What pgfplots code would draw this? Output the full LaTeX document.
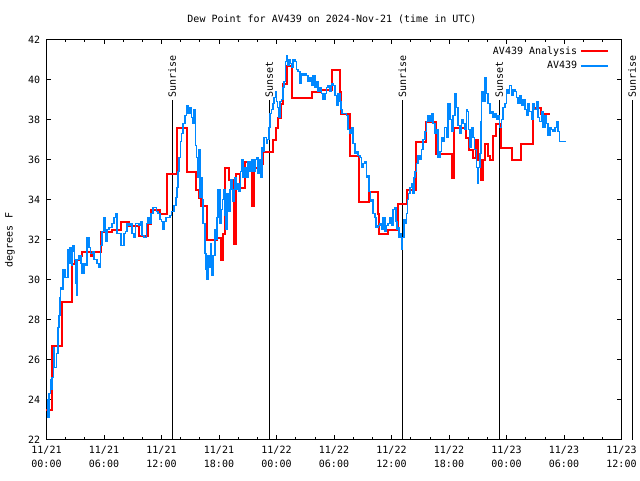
\documentclass[border=0pt]{standalone}
\usepackage{pgfplots}
\pgfplotsset{compat=1.18}
\usepackage{fontspec}
\setmainfont{DejaVu Sans Mono}
\definecolor{obsblue}{RGB}{0,136,255}
\definecolor{anared}{RGB}{255,0,0}
\begin{document}
\begin{tikzpicture}[font=\fontsize{7.5}{10.5}\selectfont]
\path[use as bounding box] (-34.875pt,-30.375pt) rectangle (445.125pt,329.625pt);
\begin{axis}[
  scale only axis, width=431.25pt, height=300pt,
  xmin=0, xmax=60, ymin=22, ymax=42,
  clip=false,
  axis line style={line width=0.6pt},
  major tick length=3.5pt, minor tick length=2pt,
  tick style={line width=0.5pt, black},
  xtick={0,6,...,60}, minor x tick num=2,
  ytick={22,24,...,42},
  xtick pos=both, ytick pos=both,
  xticklabel pos=lower, yticklabel pos=left,
  xticklabels={{11/21\\00:00},{11/21\\06:00},{11/21\\12:00},{11/21\\18:00},{11/22\\00:00},{11/22\\06:00},{11/22\\12:00},{11/22\\18:00},{11/23\\00:00},{11/23\\06:00},{11/23\\12:00}},
  xticklabel style={align=center, inner sep=0pt, yshift=-5pt, font=\fontsize{7.5}{10.5}\selectfont},
  yticklabel style={inner sep=0pt, xshift=-4.5pt, font=\fontsize{7.5}{10.5}\selectfont},
  /pgf/number format/assume math mode=true,
  legend plot pos=right,
  legend cell align=right,
  legend style={draw=none, fill=none, at={(0.978,0.99)}, anchor=north east, font=\fontsize{7.5}{9.5}\selectfont, inner sep=0pt, row sep=0pt},
  legend image code/.code={\draw[#1] (0pt,0pt) -- (20pt,0pt);},
]
\draw[black, line width=0.75pt] (axis cs:13.12,22) -- (axis cs:13.12,39.0);
\draw[black, line width=0.75pt] (axis cs:23.25,22) -- (axis cs:23.25,39.0);
\draw[black, line width=0.75pt] (axis cs:37.14,22) -- (axis cs:37.14,39.0);
\draw[black, line width=0.75pt] (axis cs:47.24,22) -- (axis cs:47.24,39.0);
\draw[black, line width=0.75pt] (axis cs:61.1,22) -- (axis cs:61.1,39.0);
\node[rotate=90, anchor=west, inner sep=1pt] at (axis cs:13.12,39.0) {Sunrise};
\node[rotate=90, anchor=west, inner sep=1pt] at (axis cs:23.25,39.0) {Sunset};
\node[rotate=90, anchor=west, inner sep=1pt] at (axis cs:37.14,39.0) {Sunrise};
\node[rotate=90, anchor=west, inner sep=1pt] at (axis cs:47.24,39.0) {Sunset};
\node[rotate=90, anchor=west, inner sep=1pt] at (axis cs:61.1,39.0) {Sunrise};
\addplot[const plot, draw=anared, line width=1.5pt, mark=none] coordinates {
(0,23.5) (0.60,26.7) (1.65,28.9) (2.63,30.8) (2.97,31.0) (3.49,31.2) (3.73,31.4) (4.61,31.2) (4.85,31.4)
(5.65,32.4) (6.86,32.5) (7.74,32.9) (8.60,32.7) (9.65,32.2) (10.62,32.8) (10.87,33.5) (11.84,33.3)
(12.60,35.3) (13.58,37.6) (14.62,35.4) (15.59,34.5) (15.93,34.1) (16.08,33.7) (16.77,32.0) (17.75,32.1)
(18.17,31.0) (18.37,32.3) (18.61,35.6) (19.06,35.0) (19.55,31.8) (19.73,35.3) (20.18,34.6) (20.70,35.9)
(21.40,33.7) (21.61,35.9) (21.74,35.6) (22.37,35.8) (22.61,36.4) (23.65,37.0) (23.90,37.6) (24.17,38.1)
(24.45,38.8) (24.69,39.8) (25.11,40.7) (25.57,39.1) (27.66,39.4) (28.52,39.5) (29.74,40.5) (30.61,39.4)
(30.71,38.3) (31.65,36.2) (32.62,33.9) (33.66,34.4) (34.60,33.3) (34.70,32.3) (35.64,32.5) (36.69,33.8)
(37.62,34.5) (38.53,36.9) (39.65,37.9) (40.69,36.3) (42.29,35.1) (42.49,37.6) (43.75,37.1) (44.11,36.5)
(44.51,36.1) (44.79,37.0) (45.00,36.0) (45.31,35.0) (45.52,36.0) (45.73,36.8) (46.04,36.2) (46.25,36.0)
(46.56,37.2) (46.95,37.8) (47.47,36.6) (48.62,36.0) (49.55,36.8) (50.76,38.6) (51.64,38.3) (52.51,38.3)
};
\addlegendentry{AV439 Analysis}
\addplot[const plot, draw=obsblue, line width=1.2pt, mark=none] coordinates {
(0.02,24.0) (0.10,23.1) (0.26,24.3) (0.40,25.0) (0.47,24.5) (0.60,25.1) (0.71,26.6) (0.83,25.6) (1.06,26.3)
(1.20,27.6) (1.30,28.2) (1.41,29.1) (1.48,29.6) (1.62,29.5) (1.75,30.5) (1.90,30.1) (2.09,30.1) (2.24,31.5)
(2.35,30.8) (2.45,31.6) (2.59,30.7) (2.69,31.4) (2.79,31.7) (2.94,31.0) (3.04,29.8) (3.15,29.2) (3.21,31.0)
(3.39,31.2) (3.57,30.8) (3.73,30.3) (3.91,30.8) (4.09,30.7) (4.25,32.1) (4.43,31.6) (4.61,31.3) (4.88,31.4)
(4.95,31.0) (5.30,30.8) (5.48,30.6) (5.65,31.7) (5.82,32.4) (6.00,33.1) (6.17,31.9) (6.34,32.5) (6.52,32.6)
(6.69,32.6) (6.86,32.8) (7.04,33.1) (7.22,33.3) (7.38,32.3) (7.66,32.3) (7.80,31.7) (8.01,31.7) (8.08,32.3)
(8.26,32.4) (8.43,32.8) (8.60,32.7) (8.78,32.8) (8.95,32.3) (9.12,32.1) (9.30,32.8) (9.65,32.7) (9.82,32.9)
(9.99,32.2) (10.17,32.1) (10.45,32.8) (10.58,33.1) (10.79,32.8) (10.93,33.3) (11.14,33.6) (11.49,33.4)
(11.66,33.3) (11.84,33.0) (12.01,32.9) (12.12,32.5) (12.25,32.9) (12.46,33.1) (12.70,33.1) (12.88,33.2)
(13.06,33.4) (13.30,33.7) (13.50,34.1) (13.64,34.6) (13.74,35.4) (13.85,36.1) (13.99,36.9) (14.10,37.3)
(14.27,37.8) (14.44,38.2) (14.62,38.7) (14.79,38.3) (14.96,38.6) (15.14,38.1) (15.31,37.8) (15.41,38.5)
(15.56,36.7) (15.66,36.1) (15.83,35.1) (15.93,36.5) (16.01,34.1) (16.18,35.1) (16.29,34.0) (16.35,32.8)
(16.53,31.3) (16.63,30.5) (16.77,30.0) (16.87,31.2) (16.98,30.6) (17.12,31.8) (17.23,30.2) (17.39,31.2)
(17.57,32.5) (17.67,32.0) (17.81,33.1) (17.92,34.5) (18.09,32.8) (18.27,33.5) (18.37,34.0) (18.51,34.5)
(18.61,33.2) (18.72,32.5) (18.85,34.3) (19.00,33.4) (19.14,34.5) (19.27,35.0) (19.42,33.9) (19.55,34.5)
(19.69,35.1) (19.83,34.5) (20.00,34.8) (20.11,34.4) (20.25,35.4) (20.39,36.0) (20.52,35.1) (20.70,35.6)
(20.88,35.1) (21.04,35.9) (21.22,35.4) (21.40,36.0) (21.57,35.4) (21.74,36.0) (21.92,36.1) (22.06,35.3)
(22.16,36.0) (22.34,35.1) (22.50,36.6) (22.61,36.4) (22.71,37.1) (22.96,36.8) (23.07,37.0) (23.20,37.6)
(23.31,38.3) (23.48,38.5) (23.65,38.8) (23.75,39.1) (23.90,39.4) (24.01,38.9) (24.11,38.6) (24.25,38.1)
(24.35,38.9) (24.53,39.0) (24.69,39.6) (24.80,39.9) (24.94,40.9) (25.05,41.2) (25.15,40.7) (25.29,41.0)
(25.39,40.8) (25.57,40.6) (25.74,41.0) (25.91,40.9) (26.09,40.5) (26.26,40.4) (26.44,39.8) (26.61,40.3)
(26.78,40.2) (26.96,40.3) (27.13,40.2) (27.30,39.9) (27.48,40.1) (27.66,39.7) (27.82,40.2) (28.00,39.6)
(28.18,39.9) (28.34,39.4) (28.52,39.6) (28.70,39.3) (28.86,39.0) (29.04,39.3) (29.22,39.6) (29.39,39.7)
(29.56,39.4) (29.74,39.8) (29.91,39.7) (30.09,39.2) (30.26,38.7) (30.43,39.3) (30.61,38.9) (30.71,38.5)
(30.85,38.3) (31.13,38.3) (31.31,38.2) (31.47,37.5) (31.65,37.3) (31.83,37.6) (32.00,36.8) (32.17,36.3)
(32.34,36.4) (32.52,36.2) (32.69,36.1) (32.87,35.6) (33.04,35.8) (33.21,35.9) (33.39,35.1) (33.56,35.2)
(33.66,34.4) (33.81,33.9) (33.94,34.0) (34.08,33.3) (34.26,33.1) (34.36,32.6) (34.60,32.7) (34.78,32.8)
(34.95,32.5) (35.12,33.1) (35.30,32.4) (35.48,32.7) (35.64,32.8) (35.82,33.1) (36.00,32.7) (36.16,33.5)
(36.34,33.6) (36.45,32.9) (36.58,32.5) (36.69,32.6) (36.79,32.1) (36.94,32.3) (37.04,31.5) (37.14,32.1)
(37.28,33.0) (37.42,32.8) (37.56,33.3) (37.67,34.0) (37.77,34.3) (37.91,34.6) (38.08,34.8) (38.19,34.3)
(38.32,35.1) (38.46,35.4) (38.60,35.8) (38.77,36.2) (38.95,36.0) (39.13,36.5) (39.29,37.0) (39.47,37.4)
(39.65,37.9) (39.81,38.2) (39.99,37.9) (40.17,38.3) (40.34,37.8) (40.52,37.3) (40.69,37.5) (40.86,36.1)
(41.03,36.4) (41.21,37.1) (41.38,36.9) (41.55,37.6) (41.73,37.1) (41.90,38.8) (42.08,38.0) (42.25,37.4)
(42.42,38.2) (42.60,39.3) (42.78,38.6) (42.95,37.7) (43.12,37.3) (43.30,38.0) (43.46,37.8) (43.64,37.5)
(43.82,38.5) (43.92,38.4) (44.03,37.5) (44.16,36.6) (44.34,37.6) (44.51,37.1) (44.68,36.5) (44.86,35.6)
(44.96,34.8) (45.07,35.6) (45.21,36.3) (45.31,37.9) (45.38,39.4) (45.55,38.9) (45.73,40.1) (45.90,39.3)
(46.07,38.8) (46.25,38.3) (46.42,38.4) (46.59,38.1) (46.77,38.3) (46.95,38.0) (47.11,38.2) (47.29,37.6)
(47.47,38.0) (47.64,38.6) (47.82,38.8) (47.99,39.5) (48.16,39.3) (48.33,39.7) (48.51,39.2) (48.68,39.5)
(48.86,39.4) (49.03,39.1) (49.20,38.8) (49.38,39.2) (49.55,38.7) (49.72,39.0) (49.90,38.5) (50.08,38.2)
(50.25,38.8) (50.42,38.4) (50.60,38.0) (50.76,38.8) (50.94,38.5) (51.12,38.9) (51.29,38.1) (51.46,37.9)
(51.64,38.4) (51.81,37.6) (51.99,38.2) (52.16,37.8) (52.33,37.2) (52.51,37.6) (52.68,37.5) (52.85,37.4)
(53.03,37.6) (53.20,37.9) (53.37,37.4) (53.55,36.9) (53.76,36.9) (54.25,36.9)
};
\addlegendentry{AV439}
\end{axis}
\node at (214.1pt,315.4pt) {Dew Point for AV439 on 2024-Nov-21 (time in UTC)};
\node[rotate=90] at (-27.4pt,149.6pt) {degrees F};
\end{tikzpicture}
\end{document}
